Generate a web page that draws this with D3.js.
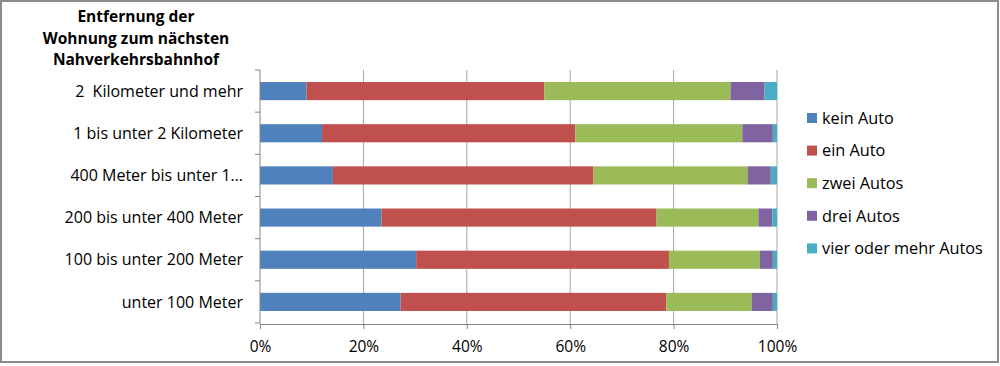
<!DOCTYPE html>
<html><head><meta charset="utf-8">
<script src="https://cdn.jsdelivr.net/npm/d3@7"></script>
<style>body{margin:0;background:#fff}svg{display:block}text{font-family:"Open Sans","Noto Sans",sans-serif;fill:#000;white-space:pre}</style>
</head><body><svg id="c" width="1000" height="366"></svg>
<script>
const categories = ["2  Kilometer und mehr","1 bis unter 2 Kilometer","400 Meter bis unter 1…","200 bis unter 400 Meter","100 bis unter 200 Meter","unter 100 Meter"];
const seriesNames = ["kein Auto","ein Auto","zwei Autos","drei Autos","vier oder mehr Autos"];
const keinAuto   = [9.0, 12.0, 14.1, 23.5, 30.2, 27.2];
const einAuto    = [46.0, 49.0, 50.4, 53.2, 48.9, 51.4];
const zweiAutos  = [36.0, 32.3, 29.8, 19.7, 17.6, 16.5];
const dreiAutos  = [6.6, 5.9, 4.5, 2.7, 2.5, 4.1];
const vierAutos  = [2.4, 0.8, 1.2, 0.9, 0.8, 0.8];
const xTicks = [0, 20, 40, 60, 80, 100];
const titleLines = ["Entfernung der","Wohnung zum nächsten","Nahverkehrsbahnhof"];
const colors = ["#4F81BD","#C0504D","#9BBB59","#8064A2","#4BACC6"];

const seriesVals = [keinAuto, einAuto, zweiAutos, dreiAutos, vierAutos];
const rows = categories.map((c,i)=>{const o={cat:c}; seriesNames.forEach((s,j)=>o[s]=seriesVals[j][i]); return o;});
const stack = d3.stack().keys(seriesNames).offset(d3.stackOffsetExpand)(rows);

const svg = d3.select("#c");
svg.append("rect").attr("x",1).attr("y",1).attr("width",997).attr("height",361)
  .attr("fill","#fff").attr("stroke","#8c8c8c").attr("stroke-width",2);

const x = d3.scaleLinear().domain([0,1]).range([260,777]);
const y = d3.scaleBand().domain(categories).range([70,323]).paddingInner(0.57).paddingOuter(0.285);

// gridlines
svg.append("g").selectAll("line").data(xTicks.slice(1)).join("line")
  .attr("x1",d=>x(d/100)).attr("x2",d=>x(d/100)).attr("y1",70).attr("y2",324)
  .attr("stroke","#a6a6a6").attr("stroke-width",1);

// bars
svg.append("g").selectAll("g").data(stack).join("g").attr("fill",(d,i)=>colors[i])
  .selectAll("rect").data(d=>d).join("rect")
  .attr("x",d=>x(d[0])).attr("width",d=>x(d[1])-x(d[0]))
  .attr("y",d=>y(d.data.cat)).attr("height",y.bandwidth());

// y axis
const yb = d3.scaleBand().domain(categories).range([70,323]);
const ya = svg.append("g");
ya.append("line").attr("x1",260).attr("x2",260).attr("y1",70).attr("y2",324).attr("stroke","#868686");
ya.selectAll("line.t").data(d3.range(categories.length+1)).join("line").attr("class","t")
  .attr("x1",255).attr("x2",260).attr("y1",i=>70+i*yb.step()).attr("y2",i=>70+i*yb.step()).attr("stroke","#868686");
ya.selectAll("text").data(categories).join("text")
  .attr("x",243).attr("y",d=>yb(d)+yb.bandwidth()/2).attr("dy","0.35em")
  .attr("text-anchor","end").style("font-size","16px").text(d=>d);

// x axis
const xa = svg.append("g").attr("transform","translate(0,324)");
xa.call(d3.axisBottom(x).tickValues(xTicks.map(d=>d/100)).tickFormat(d=>Math.round(d*100)+"%").tickSize(5).tickSizeOuter(0));
xa.select(".domain").attr("stroke","#868686");
xa.selectAll(".tick line").attr("stroke","#868686");
xa.selectAll(".tick text").attr("y",17).style("font-size","15.5px").style("font-family",'"Open Sans","Noto Sans",sans-serif').attr("fill","#000");

// title
svg.append("g").selectAll("text").data(titleLines).join("text")
  .attr("x",136).attr("y",(d,i)=>22+i*21.5).attr("text-anchor","middle")
  .style("font-size","15.5px").style("font-weight","bold").text(d=>d);

// legend
const lg = svg.append("g").selectAll("g").data(seriesNames).join("g")
  .attr("transform",(d,i)=>`translate(807,${118+i*32.6})`);
lg.append("rect").attr("x",0).attr("y",-5).attr("width",10).attr("height",10).attr("fill",(d,i)=>colors[i]);
lg.append("text").attr("x",15).attr("y",0).attr("dy","0.35em").style("font-size","16.3px").text(d=>d);
</script></body></html>
